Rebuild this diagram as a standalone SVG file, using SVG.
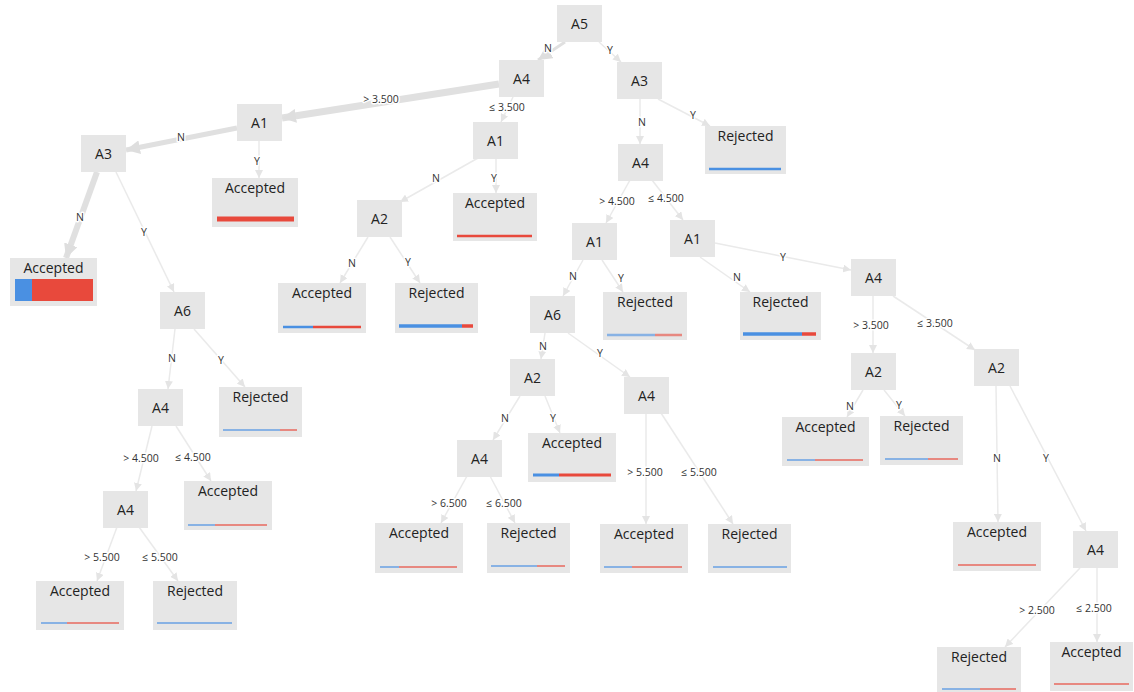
<svg xmlns="http://www.w3.org/2000/svg" width="1134" height="692" viewBox="0 0 1134 692">
<style>
.e{fill:none;stroke:#eaeaea;stroke-width:1.5;marker-end:url(#arr)}
.eb{fill:none;stroke:#e0e0e0;marker-end:url(#arrL)}
.el{font-family:"Open Sans","Noto Sans",sans-serif;font-size:10.5px;fill:#333;text-anchor:middle;stroke:#fff;stroke-width:3;paint-order:stroke;stroke-linejoin:round}
.nb{fill:#e6e6e6}
.t{font-family:"Open Sans","Noto Sans",sans-serif;font-size:14px;fill:#222;text-anchor:middle}
.b{stroke:#4a90e2;stroke-width:2.5}
.r{stroke:#e8493c;stroke-width:2.5}
.f{stroke-opacity:0.6}
</style>
<defs>
<marker id="arr" markerUnits="userSpaceOnUse" markerWidth="9" markerHeight="8" refX="8" refY="4" orient="auto"><path d="M0,0 L8,4 L0,8 z" fill="#e4e4e4"/></marker>
<marker id="arrL" markerUnits="userSpaceOnUse" markerWidth="15" markerHeight="14" refX="14" refY="7" orient="auto"><path d="M0,0 L14,7 L0,14 z" fill="#dedede"/></marker>
</defs>
<rect width="1134" height="692" fill="#fff"/>
<g id="connectors">
<path class="eb" style="stroke-width:3" d="M565,42 L538,60"/>
<path class="e" d="M599,42 L621,62"/>
<path class="eb" style="stroke-width:7" d="M499,84 L282,118"/>
<path class="e" d="M513,97 L501,122"/>
<path class="eb" style="stroke-width:5" d="M237,128 L126,150"/>
<path class="e" d="M259,141 L259,178"/>
<path class="e" d="M640,99 L640,144"/>
<path class="e" d="M658,99 L710,126"/>
<path class="eb" style="stroke-width:6" d="M97,172 L66,258"/>
<path class="e" d="M116,172 L174,292"/>
<path class="e" d="M478,158 L400,202"/>
<path class="e" d="M496,158 L496,193"/>
<path class="e" d="M630,180 L606,223"/>
<path class="e" d="M652,180 L683,220"/>
<path class="e" d="M368,237 L340,283"/>
<path class="e" d="M390,237 L420,283"/>
<path class="e" d="M583,260 L563,296"/>
<path class="e" d="M602,260 L623,292"/>
<path class="e" d="M700,257 L750,292"/>
<path class="e" d="M715,243 L851,270"/>
<path class="e" d="M175,329 L168,389"/>
<path class="e" d="M194,329 L245,387"/>
<path class="e" d="M545,333 L541,359"/>
<path class="e" d="M568,333 L630,377"/>
<path class="e" d="M873,296 L873,353"/>
<path class="e" d="M893,296 L975,350"/>
<path class="e" d="M152,426 L136,491"/>
<path class="e" d="M176,426 L211,481"/>
<path class="e" d="M520,396 L493,440"/>
<path class="e" d="M545,396 L560,433"/>
<path class="e" d="M646,413 L646,524"/>
<path class="e" d="M661,413 L733,524"/>
<path class="e" d="M863,390 L847,417"/>
<path class="e" d="M884,390 L905,416"/>
<path class="e" d="M996,386 L998,522"/>
<path class="e" d="M1010,386 L1086,531"/>
<path class="e" d="M467,476 L441,523"/>
<path class="e" d="M490,476 L515,523"/>
<path class="e" d="M117,527 L97,581"/>
<path class="e" d="M139,527 L178,581"/>
<path class="e" d="M1080,568 L1005,647"/>
<path class="e" d="M1097,568 L1097,642"/>
<text class="el" x="548" y="52">N</text>
<text class="el" x="610" y="54">Y</text>
<text class="el" x="381" y="103">&gt; 3.500</text>
<text class="el" x="507" y="111">≤ 3.500</text>
<text class="el" x="181" y="141">N</text>
<text class="el" x="257" y="165">Y</text>
<text class="el" x="642" y="126">N</text>
<text class="el" x="693" y="119">Y</text>
<text class="el" x="80" y="221">N</text>
<text class="el" x="144" y="236">Y</text>
<text class="el" x="436" y="182">N</text>
<text class="el" x="494" y="182">Y</text>
<text class="el" x="617" y="205">&gt; 4.500</text>
<text class="el" x="666" y="202">≤ 4.500</text>
<text class="el" x="352" y="267">N</text>
<text class="el" x="408" y="266">Y</text>
<text class="el" x="573" y="280">N</text>
<text class="el" x="621" y="282">Y</text>
<text class="el" x="737" y="281">N</text>
<text class="el" x="783" y="261">Y</text>
<text class="el" x="172" y="362">N</text>
<text class="el" x="221" y="364">Y</text>
<text class="el" x="543" y="350">N</text>
<text class="el" x="600" y="357">Y</text>
<text class="el" x="871" y="329">&gt; 3.500</text>
<text class="el" x="935" y="327">≤ 3.500</text>
<text class="el" x="141" y="462">&gt; 4.500</text>
<text class="el" x="193" y="461">≤ 4.500</text>
<text class="el" x="505" y="422">N</text>
<text class="el" x="553" y="422">Y</text>
<text class="el" x="645" y="476">&gt; 5.500</text>
<text class="el" x="699" y="476">≤ 5.500</text>
<text class="el" x="850" y="410">N</text>
<text class="el" x="899" y="409">Y</text>
<text class="el" x="997" y="462">N</text>
<text class="el" x="1046" y="462">Y</text>
<text class="el" x="449" y="507">&gt; 6.500</text>
<text class="el" x="504" y="507">≤ 6.500</text>
<text class="el" x="102" y="561">&gt; 5.500</text>
<text class="el" x="160" y="561">≤ 5.500</text>
<text class="el" x="1037" y="614">&gt; 2.500</text>
<text class="el" x="1094" y="612">≤ 2.500</text>
</g>
<g id="n-a5"><rect class="nb" x="557" y="5" width="45" height="37"/><text class="t" x="579.5" y="29">A5</text></g>
<g id="n-a4-1"><rect class="nb" x="499" y="60" width="45" height="37"/><text class="t" x="521.5" y="84">A4</text></g>
<g id="n-a3-1"><rect class="nb" x="617" y="62" width="45" height="37"/><text class="t" x="639.5" y="86">A3</text></g>
<g id="n-a1-l"><rect class="nb" x="237" y="104" width="45" height="37"/><text class="t" x="259.5" y="128">A1</text></g>
<g id="n-a1-m"><rect class="nb" x="473" y="122" width="45" height="37"/><text class="t" x="495.5" y="146">A1</text></g>
<g id="n-a4-r"><rect class="nb" x="618" y="144" width="45" height="37"/><text class="t" x="640.5" y="168">A4</text></g>
<g id="n-a3-l"><rect class="nb" x="81" y="135" width="45" height="37"/><text class="t" x="103.5" y="159">A3</text></g>
<g id="n-a2-m"><rect class="nb" x="357" y="200" width="45" height="37"/><text class="t" x="379.5" y="224">A2</text></g>
<g id="n-a1-r1"><rect class="nb" x="572" y="223" width="45" height="37"/><text class="t" x="594.5" y="247">A1</text></g>
<g id="n-a1-r2"><rect class="nb" x="670" y="220" width="45" height="37"/><text class="t" x="692.5" y="244">A1</text></g>
<g id="n-a6-l"><rect class="nb" x="160" y="292" width="45" height="37"/><text class="t" x="182.5" y="316">A6</text></g>
<g id="n-a6-m"><rect class="nb" x="530" y="296" width="45" height="37"/><text class="t" x="552.5" y="320">A6</text></g>
<g id="n-a4-rr"><rect class="nb" x="851" y="259" width="45" height="37"/><text class="t" x="873.5" y="283">A4</text></g>
<g id="n-a4-ll"><rect class="nb" x="138" y="389" width="45" height="37"/><text class="t" x="160.5" y="413">A4</text></g>
<g id="n-a2-mm"><rect class="nb" x="510" y="359" width="45" height="37"/><text class="t" x="532.5" y="383">A2</text></g>
<g id="n-a4-mm"><rect class="nb" x="624" y="377" width="45" height="37"/><text class="t" x="646.5" y="401">A4</text></g>
<g id="n-a2-r1"><rect class="nb" x="851" y="353" width="45" height="37"/><text class="t" x="873.5" y="377">A2</text></g>
<g id="n-a2-r2"><rect class="nb" x="974" y="349" width="45" height="37"/><text class="t" x="996.5" y="373">A2</text></g>
<g id="n-a4-m3"><rect class="nb" x="457" y="440" width="45" height="37"/><text class="t" x="479.5" y="464">A4</text></g>
<g id="n-a4-l3"><rect class="nb" x="103" y="491" width="45" height="37"/><text class="t" x="125.5" y="515">A4</text></g>
<g id="n-a4-r3"><rect class="nb" x="1073" y="531" width="45" height="37"/><text class="t" x="1095.5" y="555">A4</text></g>
<g id="l1"><rect class="nb" x="705" y="126" width="81" height="48"/><text class="t" x="745.5" y="141">Rejected</text><line class="b" x1="709" y1="169" x2="781" y2="169"/></g>
<g id="l2"><rect class="nb" x="212" y="178" width="86" height="49"/><text class="t" x="255" y="193">Accepted</text><line class="r" style="stroke-width:5" x1="217" y1="219" x2="294" y2="219"/></g>
<g id="l3"><rect class="nb" x="453" y="193" width="84" height="48"/><text class="t" x="495" y="208">Accepted</text><line class="r" x1="457" y1="236" x2="532" y2="236"/></g>
<g id="l4"><rect class="nb" x="10" y="258" width="87" height="48"/><text class="t" x="53.5" y="273">Accepted</text><rect x="15" y="279" width="17" height="22" fill="#4a90e2"/><rect x="32" y="279" width="61" height="22" fill="#e8493c"/></g>
<g id="l5"><rect class="nb" x="278" y="283" width="88" height="50"/><text class="t" x="322" y="298">Accepted</text><line class="b" x1="283" y1="327" x2="313" y2="327"/><line class="r" x1="313" y1="327" x2="361" y2="327"/></g>
<g id="l6"><rect class="nb" x="395" y="283" width="83" height="50"/><text class="t" x="436.5" y="298">Rejected</text><line class="b" style="stroke-width:3.5" x1="399" y1="326" x2="462" y2="326"/><line class="r" style="stroke-width:3.5" x1="462" y1="326" x2="473" y2="326"/></g>
<g id="l7"><rect class="nb" x="603" y="292" width="84" height="48"/><text class="t" x="645" y="307">Rejected</text><line class="b f" x1="607" y1="335" x2="655" y2="335"/><line class="r f" x1="655" y1="335" x2="682" y2="335"/></g>
<g id="l8"><rect class="nb" x="740" y="292" width="81" height="48"/><text class="t" x="780.5" y="307">Rejected</text><line class="b" style="stroke-width:3.5" x1="743" y1="334" x2="802" y2="334"/><line class="r" style="stroke-width:3.5" x1="802" y1="334" x2="816" y2="334"/></g>
<g id="l9"><rect class="nb" x="219" y="387" width="83" height="50"/><text class="t" x="260.5" y="402">Rejected</text><line class="b f" style="stroke-width:2" x1="223" y1="430" x2="280" y2="430"/><line class="r f" style="stroke-width:2" x1="280" y1="430" x2="297" y2="430"/></g>
<g id="l10"><rect class="nb" x="782" y="417" width="87" height="49"/><text class="t" x="825.5" y="432">Accepted</text><line class="b f" style="stroke-width:2" x1="787" y1="460" x2="815" y2="460"/><line class="r f" style="stroke-width:2" x1="815" y1="460" x2="863" y2="460"/></g>
<g id="l11"><rect class="nb" x="880" y="416" width="83" height="49"/><text class="t" x="921.5" y="431">Rejected</text><line class="b f" style="stroke-width:2" x1="885" y1="459" x2="928" y2="459"/><line class="r f" style="stroke-width:2" x1="928" y1="459" x2="958" y2="459"/></g>
<g id="l12"><rect class="nb" x="528" y="433" width="88" height="49"/><text class="t" x="572" y="448">Accepted</text><line class="b" style="stroke-width:3" x1="533" y1="475" x2="559" y2="475"/><line class="r" style="stroke-width:3" x1="559" y1="475" x2="611" y2="475"/></g>
<g id="l13"><rect class="nb" x="184" y="481" width="88" height="49"/><text class="t" x="228" y="496">Accepted</text><line class="b f" style="stroke-width:2" x1="188" y1="525" x2="215" y2="525"/><line class="r f" style="stroke-width:2" x1="215" y1="525" x2="267" y2="525"/></g>
<g id="l14"><rect class="nb" x="375" y="523" width="88" height="50"/><text class="t" x="419" y="538">Accepted</text><line class="b f" style="stroke-width:2" x1="380" y1="567" x2="399" y2="567"/><line class="r f" style="stroke-width:2" x1="399" y1="567" x2="457" y2="567"/></g>
<g id="l15"><rect class="nb" x="487" y="523" width="83" height="50"/><text class="t" x="528.5" y="538">Rejected</text><line class="b f" style="stroke-width:2" x1="491" y1="566" x2="537" y2="566"/><line class="r f" style="stroke-width:2" x1="537" y1="566" x2="565" y2="566"/></g>
<g id="l16"><rect class="nb" x="600" y="524" width="88" height="49"/><text class="t" x="644" y="539">Accepted</text><line class="b f" style="stroke-width:2" x1="604" y1="567" x2="632" y2="567"/><line class="r f" style="stroke-width:2" x1="632" y1="567" x2="682" y2="567"/></g>
<g id="l17"><rect class="nb" x="708" y="524" width="83" height="49"/><text class="t" x="749.5" y="539">Rejected</text><line class="b f" style="stroke-width:2" x1="713" y1="567" x2="787" y2="567"/></g>
<g id="l18"><rect class="nb" x="953" y="522" width="88" height="49"/><text class="t" x="997" y="537">Accepted</text><line class="r f" style="stroke-width:2" x1="958" y1="565" x2="1036" y2="565"/></g>
<g id="l19"><rect class="nb" x="36" y="581" width="88" height="49"/><text class="t" x="80" y="596">Accepted</text><line class="b f" style="stroke-width:2" x1="41" y1="623" x2="67" y2="623"/><line class="r f" style="stroke-width:2" x1="67" y1="623" x2="119" y2="623"/></g>
<g id="l20"><rect class="nb" x="153" y="581" width="84" height="49"/><text class="t" x="195" y="596">Rejected</text><line class="b f" style="stroke-width:2" x1="157" y1="623" x2="232" y2="623"/></g>
<g id="l21"><rect class="nb" x="937" y="647" width="84" height="49"/><text class="t" x="979" y="662">Rejected</text><line class="b f" style="stroke-width:2" x1="942" y1="689" x2="980" y2="689"/><line class="r f" style="stroke-width:2" x1="980" y1="689" x2="1016" y2="689"/></g>
<g id="l22"><rect class="nb" x="1050" y="642" width="83" height="49"/><text class="t" x="1091.5" y="657">Accepted</text><line class="r f" style="stroke-width:2" x1="1054" y1="684" x2="1129" y2="684"/></g>
</svg>
